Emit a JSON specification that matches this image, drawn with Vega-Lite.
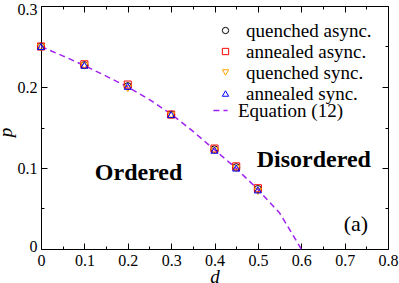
{
  "$schema": "https://vega.github.io/schema/vega-lite/v6.json",
  "width": 347,
  "height": 243,
  "autosize": {"type": "none"},
  "padding": {"left": 41, "top": 6, "right": 11, "bottom": 34},
  "background": "white",
  "config": {
    "view": {"stroke": null}
  },
  "datasets": {
    "curve": [
      {"d": 0, "p": 0.25, "curve": "Equation (12)"},
      {"d": 0.05, "p": 0.2385, "curve": "Equation (12)"},
      {"d": 0.1, "p": 0.2265, "curve": "Equation (12)"},
      {"d": 0.15, "p": 0.2135, "curve": "Equation (12)"},
      {"d": 0.2, "p": 0.2, "curve": "Equation (12)"},
      {"d": 0.25, "p": 0.1845, "curve": "Equation (12)"},
      {"d": 0.3, "p": 0.1665, "curve": "Equation (12)"},
      {"d": 0.35, "p": 0.1455, "curve": "Equation (12)"},
      {"d": 0.4, "p": 0.1225, "curve": "Equation (12)"},
      {"d": 0.45, "p": 0.0995, "curve": "Equation (12)"},
      {"d": 0.5, "p": 0.0735, "curve": "Equation (12)"},
      {"d": 0.525, "p": 0.059, "curve": "Equation (12)"},
      {"d": 0.55, "p": 0.0445, "curve": "Equation (12)"},
      {"d": 0.575, "p": 0.0225, "curve": "Equation (12)"},
      {"d": 0.6, "p": 0, "curve": "Equation (12)"}
    ],
    "points": [
      {"d": 0, "p": 0.25, "series": "quenched async."},
      {"d": 0.1, "p": 0.227, "series": "quenched async."},
      {"d": 0.2, "p": 0.201, "series": "quenched async."},
      {"d": 0.3, "p": 0.166, "series": "quenched async."},
      {"d": 0.4, "p": 0.123, "series": "quenched async."},
      {"d": 0.45, "p": 0.101, "series": "quenched async."},
      {"d": 0.5, "p": 0.074, "series": "quenched async."},
      {"d": 0, "p": 0.25, "series": "annealed async."},
      {"d": 0.1, "p": 0.228, "series": "annealed async."},
      {"d": 0.2, "p": 0.203, "series": "annealed async."},
      {"d": 0.3, "p": 0.166, "series": "annealed async."},
      {"d": 0.4, "p": 0.124, "series": "annealed async."},
      {"d": 0.45, "p": 0.102, "series": "annealed async."},
      {"d": 0.5, "p": 0.075, "series": "annealed async."},
      {"d": 0, "p": 0.249, "series": "quenched sync."},
      {"d": 0.1, "p": 0.226, "series": "quenched sync."},
      {"d": 0.2, "p": 0.198, "series": "quenched sync."},
      {"d": 0.3, "p": 0.165, "series": "quenched sync."},
      {"d": 0.4, "p": 0.121, "series": "quenched sync."},
      {"d": 0.45, "p": 0.099, "series": "quenched sync."},
      {"d": 0.5, "p": 0.071, "series": "quenched sync."},
      {"d": 0, "p": 0.25, "series": "annealed sync."},
      {"d": 0.1, "p": 0.227, "series": "annealed sync."},
      {"d": 0.2, "p": 0.201, "series": "annealed sync."},
      {"d": 0.3, "p": 0.166, "series": "annealed sync."},
      {"d": 0.4, "p": 0.122, "series": "annealed sync."},
      {"d": 0.45, "p": 0.1, "series": "annealed sync."},
      {"d": 0.5, "p": 0.073, "series": "annealed sync."}
    ],
    "regions": [
      {"d": 0.225, "p": 0.0852, "label": "Ordered"},
      {"d": 0.629, "p": 0.1016, "label": "Disordered"}
    ],
    "panel": [
      {"d": 0.726, "p": 0.0222, "label": "(a)"}
    ]
  },
  "resolve": {"axis": {"x": "independent", "y": "independent"}},
  "layer": [
    {
      "data": {"name": "curve"},
      "mark": {"type": "line", "color": "#a020f0", "strokeWidth": 1.5},
      "encoding": {
        "x": {"field": "d", "type": "quantitative",
              "scale": {"domain": [0, 0.8], "nice": false, "zero": false},
              "axis": {"orient": "bottom", "values": [0, 0.1, 0.2, 0.3, 0.4, 0.5, 0.6, 0.7, 0.8], "format": ".1~f",
                       "grid": false, "labelFlush": false, "labelOverlap": false,
                       "labelFont": "Liberation Serif", "labelFontSize": 16, "labelColor": "black",
                       "domainColor": "black", "tickColor": "black",
                       "tickSize": -6, "labelPadding": 9, "title": "d",
                       "titleFont": "Liberation Serif", "titleFontSize": 19, "titleFontStyle": "italic", "titleFontWeight": "normal", "titleColor": "black",
                       "titleY": 33, "titleBaseline": "alphabetic"}},
        "y": {"field": "p", "type": "quantitative",
              "scale": {"domain": [0, 0.3], "nice": false, "zero": false},
              "axis": {"orient": "left", "values": [0, 0.1, 0.2, 0.3], "format": ".1~f",
                       "grid": false, "labelFlush": false, "labelOverlap": false,
                       "labelOffset": {"condition": [{"test": "datum.value >= 0.29", "value": 3}, {"test": "datum.value <= 0.01", "value": -3}], "value": 0},
                       "labelFont": "Liberation Serif", "labelFontSize": 16, "labelColor": "black",
                       "domainColor": "black", "tickColor": "black",
                       "tickSize": -6, "labelPadding": 10, "title": "p",
                       "titleFont": "Liberation Serif", "titleFontSize": 19, "titleFontStyle": "italic", "titleFontWeight": "normal", "titleColor": "black",
                       "titleX": -29.5, "titleY": 126, "titleBaseline": "alphabetic"}},
        "strokeDash": {"field": "curve", "type": "nominal",
                       "scale": {"domain": ["Equation (12)"], "range": [[6, 4]]},
                       "legend": {"orient": "none", "legendX": 170, "legendY": 95, "title": null, "padding": 0,
                                  "labelFont": "Liberation Serif", "labelFontSize": 19, "labelColor": "black",
                                  "symbolType": "stroke", "symbolStrokeColor": "#a020f0", "symbolStrokeWidth": 1.5,
                                  "symbolSize": 200, "labelOffset": 8}}
      }
    },
    {
      "data": {"name": "points"},
      "mark": {"type": "point", "filled": false, "size": 50, "strokeWidth": 1, "opacity": 1},
      "encoding": {
        "x": {"field": "d", "type": "quantitative",
              "axis": {"orient": "top", "values": [0, 0.1, 0.2, 0.3, 0.4, 0.5, 0.6, 0.7, 0.8], "grid": false,
                       "domainColor": "black", "tickColor": "black",
                       "tickSize": -6, "labels": false, "title": null}},
        "y": {"field": "p", "type": "quantitative",
              "axis": {"orient": "right", "values": [0, 0.1, 0.2, 0.3], "grid": false,
                       "domainColor": "black", "tickColor": "black",
                       "tickSize": -6, "labels": false, "title": null}},
        "color": {"field": "series", "type": "nominal",
                  "scale": {"domain": ["quenched async.", "annealed async.", "quenched sync.", "annealed sync."],
                            "range": ["#000000", "#ff0000", "#ffa500", "#0000ff"]},
                  "legend": {"orient": "none", "legendX": 175, "legendY": 15, "title": null, "padding": 0, "rowPadding": 1,
                             "labelFont": "Liberation Serif", "labelFontSize": 19, "labelColor": "black",
                             "symbolSize": 40, "symbolStrokeWidth": 1, "labelOffset": 11}},
        "shape": {"field": "series", "type": "nominal",
                  "scale": {"domain": ["quenched async.", "annealed async.", "quenched sync.", "annealed sync."],
                            "range": ["circle", "square", "triangle-down", "triangle-up"]},
                  "legend": {"orient": "none", "legendX": 175, "legendY": 15, "title": null, "padding": 0, "rowPadding": 1,
                             "labelFont": "Liberation Serif", "labelFontSize": 19, "labelColor": "black",
                             "symbolSize": 40, "symbolStrokeWidth": 1, "labelOffset": 11}}
      }
    },
    {
      "data": {"name": "regions"},
      "mark": {"type": "text", "font": "Liberation Serif", "fontSize": 24, "fontWeight": "bold",
               "align": "center", "baseline": "alphabetic", "color": "black"},
      "encoding": {
        "x": {"field": "d", "type": "quantitative",
              "axis": {"orient": "bottom", "values": [0.05, 0.15, 0.25, 0.35, 0.45, 0.55, 0.65, 0.75], "grid": false,
                       "tickColor": "black", "tickSize": -3, "labels": false, "domain": false, "title": null}},
        "y": {"field": "p", "type": "quantitative",
              "axis": {"orient": "left", "values": [0.05, 0.15, 0.25], "grid": false,
                       "tickColor": "black", "tickSize": -3, "labels": false, "domain": false, "title": null}},
        "text": {"field": "label"}
      }
    },
    {
      "data": {"name": "panel"},
      "mark": {"type": "text", "font": "Liberation Serif", "fontSize": 22,
               "align": "center", "baseline": "alphabetic", "color": "black"},
      "encoding": {
        "x": {"field": "d", "type": "quantitative",
              "axis": {"orient": "top", "values": [0.05, 0.15, 0.25, 0.35, 0.45, 0.55, 0.65, 0.75], "grid": false,
                       "tickColor": "black", "tickSize": -3, "labels": false, "domain": false, "title": null}},
        "y": {"field": "p", "type": "quantitative",
              "axis": {"orient": "right", "values": [0.05, 0.15, 0.25], "grid": false,
                       "tickColor": "black", "tickSize": -3, "labels": false, "domain": false, "title": null}},
        "text": {"field": "label"}
      }
    }
  ]
}
